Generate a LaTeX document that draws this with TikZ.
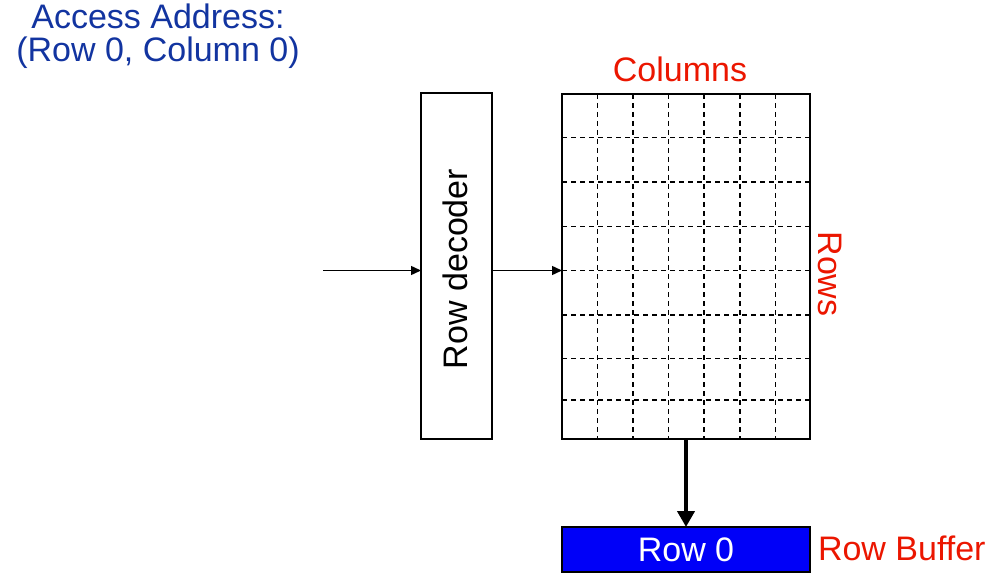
\documentclass[tikz,border=0pt]{standalone}
\usepackage{fontspec}
\setmainfont{Liberation Sans}
\usetikzlibrary{arrows.meta,positioning}
\definecolor{addrblue}{RGB}{18,52,160}
\definecolor{labelred}{RGB}{235,22,0}
\definecolor{bufblue}{RGB}{0,0,248}

\begin{document}
\begin{tikzpicture}
[x = 1pt,
y = -1pt,
every node/.style = {font=\fontsize{34}{30}\selectfont, inner sep=0pt, outer sep=0pt},
box/.style = {draw, line width=1.6pt, anchor=north west},
cell/.style = {line width=1.5pt, dash pattern=on 5pt off 4pt},
thinarrow/.style = {line width=1.4pt, -{Triangle[length=10pt,width=9pt]}},
thickarrow/.style = {line width=4.5pt, -{Triangle[length=16pt,width=17pt]}}]
\useasboundingbox (0,0) rectangle (1003,585);

\node[anchor=north, align=center, text=addrblue, font=\fontsize{34}{32.5}\selectfont] (addr) at (158,4) {Access Address:\\(Row 0, Column 0)};

\node[box, minimum width=71pt, minimum height=346pt] (dec) at (421,93) {};
\node[rotate=90] (declabel) at (455,269) {Row decoder};

\node[box, minimum width=248pt, minimum height=345pt] (array) at (562,94) {};
\foreach \x in {597.5,633,668.5,704,740,775.5}
  \draw[cell] (\x,94) -- (\x,439);
\foreach \y in {137.5,182,226.5,270.5,315,358.5,400}
  \draw[cell] (562,\y) -- (810,\y);

\node[text=labelred] (collabel) at (680,69) {Columns};
\node[text=labelred, rotate=-90] (rowlabel) at (830,274) {Rows};

\node[box, fill=bufblue, text=white, minimum width=248pt, minimum height=45pt] (buf) at (562,527) {Row 0};
\node[anchor=base west, text=labelred] (buflabel) at (818,560.5) {Row Buffer};

\coordinate (addrin) at (323,270.5);
\draw[thinarrow] (addrin) -- (addrin -| dec.west);
\draw[thinarrow] (addrin -| dec.east) -- (addrin -| array.west);
\draw[thickarrow] (array.south) -- (buf.north);
\end{tikzpicture}
\end{document}
